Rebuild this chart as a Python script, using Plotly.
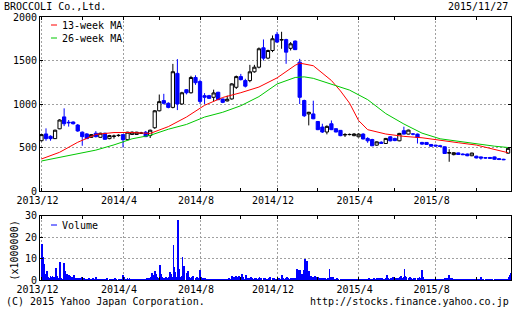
import pandas as pd
import plotly.graph_objects as go

# ---------------- data ----------------
week_start = "2013-12-02"
n_weeks = 104

opens = [578, 656, 629, 602, 715, 852, 790, 793, 758, 676,
         656, 617, 664, 617, 664, 602, 628, 637, 648, 590,
         650, 650, 664, 676, 637, 727, 922, 1039, 1008, 961,
         1352, 1000, 1164, 1129, 1305, 1258, 1096, 1096, 1077, 1135,
         1058, 1035, 1058, 1192, 1315, 1269, 1269, 1370, 1423, 1646,
         1527, 1615, 1800, 1735, 1740, 1640, 1723, 1481, 1040, 886,
         886, 799, 735, 678, 773, 716, 697, 645, 648, 636,
         623, 654, 604, 592, 527, 560, 546, 623, 604, 577,
         693, 654, 656, 654, 558, 558, 535, 527, 520, 508,
         436, 418, 438, 425, 425, 405, 400, 392, 382, 385,
         392, 372, 365, 435]
highs = [655, 720, 640, 705, 825, 950, 816, 800, 770, 685,
         665, 655, 688, 670, 670, 645, 648, 652, 655, 680,
         685, 680, 680, 690, 705, 930, 1109, 1117, 1020, 1461,
         1516, 1140, 1170, 1324, 1330, 1280, 1125, 1105, 1165, 1140,
         1062, 1096, 1240, 1327, 1346, 1290, 1450, 1450, 1650, 1742,
         1625, 1788, 1830, 1830, 1750, 1712, 1731, 1519, 1050, 910,
         1038, 805, 773, 754, 811, 720, 700, 665, 660, 665,
         662, 665, 618, 600, 570, 572, 610, 630, 612, 668,
         739, 705, 665, 660, 565, 562, 540, 530, 530, 512,
         480, 445, 442, 432, 430, 440, 405, 395, 388, 392,
         395, 378, 370, 495]
lows = [570, 578, 578, 598, 710, 746, 740, 765, 680, 520,
        598, 610, 615, 612, 590, 595, 602, 625, 500, 585,
        645, 645, 655, 620, 609, 715, 915, 995, 950, 950,
        930, 990, 1110, 1120, 1220, 1000, 1000, 1058, 1030, 1045,
        1010, 1030, 1050, 1173, 1270, 1190, 1250, 1360, 1410, 1500,
        1515, 1596, 1700, 1635, 1462, 1615, 1620, 1000, 850, 754,
        825, 700, 667, 651, 700, 675, 630, 621, 640, 630,
        618, 593, 554, 515, 520, 540, 540, 570, 572, 572,
        650, 650, 640, 546, 530, 530, 510, 510, 505, 425,
        336, 410, 415, 412, 400, 400, 375, 360, 372, 370,
        360, 355, 355, 430]
closes = [648, 602, 602, 699, 816, 773, 785, 773, 690, 625,
          602, 648, 625, 664, 594, 637, 631, 640, 590, 676,
          676, 676, 666, 625, 699, 922, 1027, 1008, 961, 1371,
          1000, 1129, 1129, 1305, 1245, 1030, 1077, 1065, 1127, 1050,
          1019, 1055, 1231, 1315, 1280, 1205, 1370, 1423, 1635, 1527,
          1615, 1750, 1712, 1740, 1596, 1692, 1625, 1077, 865, 905,
          830, 705, 678, 743, 705, 678, 636, 648, 650, 655,
          654, 598, 577, 520, 565, 548, 604, 577, 580, 662,
          654, 700, 654, 616, 539, 535, 515, 518, 512, 431,
          440, 440, 420, 418, 405, 436, 380, 378, 380, 376,
          365, 362, 360, 490]

# moving averages read at selected weeks (week index, value)
ma13_weeks = [0, 4, 8, 12, 16, 20, 24, 28, 32, 36, 40, 44, 48, 52, 56, 57,
              60, 64, 66, 68, 70, 72, 76, 80, 84, 88, 92, 96, 100, 103]
ma13_vals = [368, 445, 560, 650, 672, 672, 662, 740, 850, 985, 1075, 1130,
             1195, 1300, 1445, 1470, 1440, 1270, 1150, 1010, 810, 705, 655,
             628, 612, 580, 555, 528, 475, 440]
ma26_weeks = [0, 4, 8, 12, 16, 20, 24, 28, 32, 36, 40, 44, 48, 52, 56, 58,
              60, 64, 68, 72, 76, 80, 84, 88, 92, 96, 100, 103]
ma26_vals = [345, 385, 425, 470, 530, 600, 640, 710, 765, 850, 905, 980,
             1085, 1230, 1305, 1312, 1295, 1230, 1160, 1050, 890, 770, 665,
             600, 570, 545, 515, 500]

# daily volume (x1,000,000), one row of Mon..Fri per week
volume_rows = [
    [14, 17, 11, 7, 7.8], [3.2, 4.5, 2.5, 1.5, 1.2], [2.0, 1.5, 1.0, 2.0, 1.5],
    [1.5, 5.8, 1.2, 2.0, 1.0], [8.6, 1.0, 0.8, 1.0, 0.7], [8.3, 4.5, 4.5, 1.0, 3.0],
    [2.3, 2.5, 2.0, 1.5, 1.0], [1.5, 2.5, 1.5, 1.0, 1.2], [0.8, 1.2, 0.7, 1.0, 0.6],
    [1.5, 0.9, 0.7, 1.1, 0.8], [0.7, 0.9, 0.6, 0.8, 1.0], [0.6, 0.8, 1.0, 0.7, 0.9],
    [1.5, 0.8, 0.6, 0.9, 0.7], [0.6, 0.7, 0.9, 0.6, 0.8], [0.9, 0.6, 0.7, 1.0, 0.6],
    [0.7, 0.8, 0.6, 0.7, 0.9], [0.8, 0.6, 1.0, 0.7, 0.6], [0.7, 0.9, 0.6, 0.8, 0.7],
    [2.5, 1.5, 0.8, 0.7, 0.9], [1.0, 0.8, 0.7, 1.2, 0.8], [0.7, 0.6, 0.8, 0.7, 0.6],
    [0.6, 0.7, 0.6, 0.8, 0.7], [0.8, 0.7, 0.9, 0.6, 0.7], [0.7, 0.8, 1.0, 1.2, 0.9],
    [1.0, 1.5, 2.0, 3.5, 2.5], [4.5, 2.0, 3.0, 1.5, 1.0], [1.2, 7.4, 1.0, 3.0, 1.5],
    [1.0, 1.2, 0.9, 1.5, 1.0], [1.2, 1.5, 2.0, 3.8, 2.8], [1.5, 16.6, 6.3, 4.0, 2.0],
    [1.5, 28.0, 5.5, 1.5, 1.5], [2.0, 11.0, 6.6, 5.5, 6.8], [3.5, 1.5, 4.3, 1.5, 1.5],
    [1.2, 1.5, 1.0, 2.0, 1.2], [1.0, 0.8, 1.5, 1.2, 1.0], [5.0, 1.5, 1.0, 0.8, 1.2],
    [0.8, 1.0, 0.7, 0.9, 0.6], [0.7, 0.6, 0.8, 0.7, 0.9], [0.6, 0.8, 0.6, 0.7, 0.6],
    [0.7, 0.6, 0.8, 0.6, 0.7], [0.6, 0.9, 0.7, 0.6, 0.8], [0.8, 0.6, 0.7, 1.0, 0.7],
    [1.5, 2.0, 1.2, 1.5, 1.0], [2.3, 1.2, 1.5, 1.0, 2.0], [1.2, 1.0, 2.8, 1.5, 1.0],
    [0.9, 2.5, 1.2, 0.8, 1.0], [1.0, 0.8, 1.5, 0.9, 1.2], [0.8, 1.0, 0.7, 1.2, 0.9],
    [1.0, 1.5, 0.8, 1.0, 0.7], [1.2, 0.8, 1.0, 0.7, 0.9], [0.8, 1.0, 0.7, 1.5, 0.8],
    [1.0, 0.8, 1.2, 0.9, 0.7], [0.8, 1.2, 0.9, 1.0, 0.8], [2.0, 2.5, 1.0, 1.2, 0.9],
    [1.0, 0.9, 1.5, 1.0, 0.8], [0.9, 1.2, 1.0, 0.8, 1.0], [1.0, 0.8, 1.2, 5.5, 5.0],
    [4.8, 3.5, 1.2, 3.2, 2.5], [5.0, 9.8, 3.2, 4.0, 9.2], [4.5, 3.0, 1.5, 2.0, 1.5],
    [1.8, 1.5, 2.0, 1.2, 1.5], [1.2, 1.5, 1.0, 1.2, 0.9], [1.0, 0.8, 1.2, 0.9, 1.0],
    [0.8, 1.0, 0.9, 1.2, 5.5], [1.5, 1.2, 1.5, 1.0, 0.8], [0.9, 0.8, 1.0, 0.7, 0.8],
    [0.7, 0.9, 0.6, 0.8, 0.7], [0.8, 0.6, 0.7, 0.9, 0.6], [0.6, 0.8, 0.7, 0.6, 0.8],
    [0.7, 0.6, 0.9, 0.7, 0.6], [0.8, 0.7, 0.6, 0.8, 0.7], [0.6, 0.9, 0.7, 0.6, 0.8],
    [0.7, 0.8, 1.0, 0.7, 0.6], [0.9, 0.7, 0.8, 1.2, 0.8], [0.8, 1.0, 0.7, 0.9, 1.1],
    [1.0, 0.8, 1.2, 0.9, 0.8], [1.2, 1.0, 2.5, 1.0, 0.9], [0.9, 1.2, 0.8, 1.0, 1.5],
    [1.0, 0.8, 1.2, 0.9, 1.0], [1.2, 1.5, 1.0, 2.0, 1.2], [1.5, 5.5, 2.0, 1.5, 1.8],
    [1.2, 1.0, 1.5, 0.9, 1.0], [0.9, 1.2, 0.8, 1.0, 0.8], [1.0, 0.8, 1.2, 1.5, 1.0],
    [5.0, 1.5, 1.0, 0.9, 0.8], [0.8, 0.7, 0.9, 0.6, 0.8], [0.7, 0.9, 0.6, 0.8, 0.7],
    [0.6, 0.8, 0.7, 0.6, 0.9], [0.8, 0.6, 0.9, 0.7, 0.6], [0.9, 1.2, 0.8, 1.0, 0.7],
    [2.5, 1.2, 0.9, 0.8, 1.0], [0.8, 0.7, 0.9, 0.6, 0.8], [0.6, 0.8, 0.7, 0.6, 0.7],
    [0.7, 0.6, 0.8, 0.7, 0.6], [0.6, 0.7, 0.6, 0.8, 0.7], [0.8, 0.6, 0.7, 0.6, 0.8],
    [0.6, 0.7, 0.6, 0.7, 0.6], [1.7, 0.7, 0.6, 0.8, 0.6], [0.6, 0.8, 0.7, 0.6, 0.7],
    [0.7, 0.6, 0.8, 0.7, 0.6], [0.6, 0.7, 0.6, 0.8, 0.7], [0.8, 0.6, 0.7, 0.6, 0.8],
    [0.6, 0.7, 0.8, 0.6, 0.7], [0.8, 1.0, 1.5, 2.5, 3.5],
]

tick_dates = ["2013-12-02", "2014-04-07", "2014-08-04", "2014-12-01",
              "2015-04-06", "2015-08-03"]
tick_labels = ["2013/12", "2014/4", "2014/8", "2014/12", "2015/4", "2015/8"]
minor_tick_dates = ["2014-02-03", "2014-06-02", "2014-10-06", "2015-02-02",
                    "2015-06-01", "2015-10-05"]
price_ticks = [0, 500, 1000, 1500, 2000]
volume_ticks = [0, 10, 20, 30]

company = "BROCCOLI Co.,Ltd."
chart_date = "2015/11/27"
copyright_text = "(C) 2015 Yahoo Japan Corporation."
url_text = "http://stocks.finance.yahoo.co.jp"

# ---------------- derived ----------------
weeks = pd.date_range(week_start, periods=n_weeks, freq="7D")
vol_dates = [w + pd.Timedelta(days=d) for w in weeks for d in range(5)]
vol_values = [v for row in volume_rows for v in row]

x_range = [weeks[0] - pd.Timedelta(hours=55), weeks[-1] + pd.Timedelta(hours=108)]

FONT = "DejaVu Sans Mono"
BLUE = "#0000ff"
GRID = "#a0a0a0"

W, H = 512, 310
L, R, T, B = 40, 1, 17, 30
pw, ph = W - L - R, H - T - B


def px(xpix):
    return (xpix - L) / pw


def py(ypix):
    return (H - B - ypix) / ph


fig = go.Figure()
fig.add_trace(go.Candlestick(
    x=weeks, open=opens, high=highs, low=lows, close=closes,
    increasing=dict(line=dict(color="black", width=1), fillcolor="white"),
    decreasing=dict(line=dict(color=BLUE, width=1), fillcolor=BLUE),
    whiskerwidth=0, showlegend=False, xaxis="x", yaxis="y"))
fig.add_trace(go.Scatter(x=[weeks[i] for i in ma13_weeks], y=ma13_vals, mode="lines",
                         line=dict(color="#ff0000", width=1), showlegend=False,
                         xaxis="x", yaxis="y"))
fig.add_trace(go.Scatter(x=[weeks[i] for i in ma26_weeks], y=ma26_vals, mode="lines",
                         line=dict(color="#00c800", width=1), showlegend=False,
                         xaxis="x", yaxis="y"))
fig.add_trace(go.Bar(x=vol_dates, y=vol_values, width=1.3 * 86400000,
                     marker=dict(color=BLUE, line=dict(width=0)),
                     showlegend=False, xaxis="x2", yaxis="y2"))

axis_common = dict(showline=True, linecolor="black", linewidth=1, mirror="ticks",
                   ticks="inside", ticklen=3, tickcolor="black", tickwidth=1,
                   zeroline=False, tickfont=dict(family=FONT, size=10, color="black"))
grid_common = dict(showgrid=True, gridcolor=GRID, gridwidth=1, griddash="2px,2px")

xcommon = dict(type="date", range=x_range, tickmode="array", tickvals=tick_dates,
               ticktext=tick_labels, ticklabelshift=-4,
               minor=dict(tickmode="array", tickvals=minor_tick_dates, ticks="inside",
                          ticklen=3, tickcolor="black", showgrid=False),
               rangeslider=dict(visible=False), **axis_common, **grid_common)

fig.update_layout(
    width=W, height=H, margin=dict(l=L, r=R, t=T, b=B, pad=0),
    paper_bgcolor="white", plot_bgcolor="white", showlegend=False,
    font=dict(family=FONT, size=10, color="black"),
    xaxis=dict(domain=[0, 1], anchor="y", **xcommon),
    xaxis2=dict(domain=[0, 1], anchor="y2", **xcommon),
    yaxis=dict(domain=[py(191), 1], anchor="x", range=[0, 2000], tickmode="array",
               tickvals=price_ticks, **axis_common, **grid_common),
    yaxis2=dict(domain=[0, py(215.5)], anchor="x2", range=[0, 30], tickmode="array",
                tickvals=volume_ticks, **axis_common, **grid_common),
    bargap=0, boxgap=0.2, boxgroupgap=0.1,
)

ann_font = dict(family=FONT, size=10, color="black")
annotations = [
    dict(x=px(3), y=py(6.5), text=company, xanchor="left"),
    dict(x=px(509), y=py(6.5), text=chart_date, xanchor="right"),
    dict(x=px(5), y=py(301), text=copyright_text, xanchor="left"),
    dict(x=px(510), y=py(301), text=url_text, xanchor="right"),
    dict(x=px(61), y=py(25), text="13-week MA", xanchor="left"),
    dict(x=px(61), y=py(38), text="26-week MA", xanchor="left"),
    dict(x=px(61), y=py(225), text="Volume", xanchor="left"),
    dict(x=px(7), y=py(251), text="(x1000000)", textangle=-90),
]
for a in annotations:
    fig.add_annotation(xref="paper", yref="paper", showarrow=False, yanchor="middle",
                       font=ann_font, borderpad=0, **a)

for ypix, col in [(25, "#ff0000"), (38, "#00c800"), (225, BLUE)]:
    fig.add_shape(type="line", xref="paper", yref="paper", x0=px(51), x1=px(57),
                  y0=py(ypix), y1=py(ypix), line=dict(color=col, width=1))

fig.write_html("out.html")
